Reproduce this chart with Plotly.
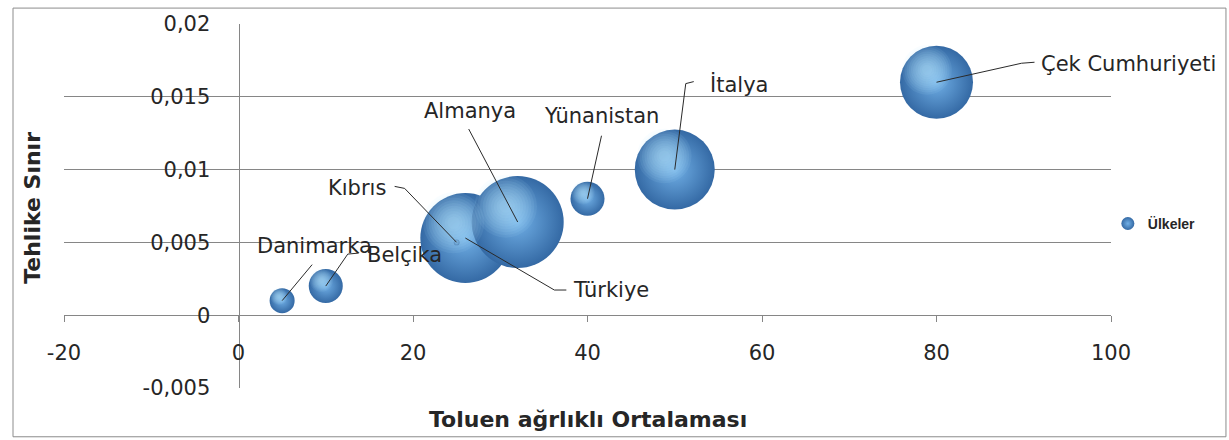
import math
import plotly.graph_objects as go

# Ülke verileri
countries = ["Danimarka", "Belçika", "Türkiye", "Kıbrıs", "Almanya",
             "Yünanistan", "İtalya", "Çek Cumhuriyeti"]
toluen = [5, 10, 26, 25, 32, 40, 50, 80]
tehlike = [0.001, 0.002, 0.0053, 0.005, 0.0064, 0.008, 0.010, 0.016]
bubble_size = [7.4, 13.7, 95.7, 0.4, 100, 13.7, 75.6, 63.0]

x_ticks = [-20, 0, 20, 40, 60, 80, 100]
x_tick_labels = ["-20", "0", "20", "40", "60", "80", "100"]
y_ticks = [-0.005, 0, 0.005, 0.01, 0.015, 0.02]
y_tick_labels = ["-0,005", "0", "0,005", "0,01", "0,015", "0,02"]

FONT = "DejaVu Sans"
GRID = "#868686"
TEXT = "#262626"
EDGE = "#3469a4"
CENTER = "#70afe6"
SHINE = "rgba(190,228,252,0.085)"
MAX_DIAM = 92
SIZEREF = 2.0 * max(bubble_size) / MAX_DIAM ** 2

# Etiket yerleşimi: lider çizgisinin kırılma noktaları ve metin konumu (ekran pikseli, aşağı pozitif)
leaders = {
    "Danimarka": ([(30, -36)], (32, -55), "center"),
    "Belçika": ([(22, -32), (33, -33)], (40, -31), "left"),
    "Türkiye": ([(89, 52), (101, 52)], (107, 52), "left"),
    "Kıbrıs": ([(-52, -54), (-62, -56)], (-70, -54), "right"),
    "Almanya": ([(-49, -93)], (-48, -111), "center"),
    "Yünanistan": ([(14, -63)], (14, -83), "center"),
    "İtalya": ([(11, -86), (19, -88)], (34, -85), "left"),
    "Çek Cumhuriyeti": ([(85, -19), (98, -20)], (103, -18), "left"),
}

fig = go.Figure()

fig.add_trace(go.Scatter(
    x=toluen, y=tehlike, mode="markers", showlegend=False,
    hovertext=countries,
    marker=dict(
        size=bubble_size, sizemode="area", sizeref=SIZEREF,
        color=EDGE, line=dict(width=0), opacity=1,
        gradient=dict(type="radial", color=CENTER),
    ),
))

# Gösterge girdisi
fig.add_trace(go.Scatter(
    x=[None], y=[None], mode="markers", name="Ülkeler",
    marker=dict(size=13, color=EDGE, line=dict(width=0),
                gradient=dict(type="radial", color=CENTER)),
))

shapes = []
annotations = []

# Kürelerin sol üstündeki yumuşak parlama (balon çapına göre piksel cinsinden)
for xv, yv, s in zip(toluen, tehlike, bubble_size):
    d = 2 * math.sqrt(s / 2 / SIZEREF)
    if d < 12:
        continue
    cx, cy = -0.13 * d, 0.17 * d
    for k in range(10):
        r = (0.34 - 0.03 * k) * d
        shapes.append(dict(
            type="circle", xref="x", yref="y",
            xsizemode="pixel", ysizemode="pixel", xanchor=xv, yanchor=yv,
            x0=cx - r, x1=cx + r, y0=cy - r, y1=cy + r,
            fillcolor=SHINE, line=dict(width=0), layer="above",
        ))

for name, xv, yv in zip(countries, toluen, tehlike):
    pts, (tx, ty), anchor = leaders[name]
    path = "M 0,0 " + " ".join(f"L {px},{-py}" for px, py in pts)
    shapes.append(dict(
        type="path", path=path, xref="x", yref="y",
        xsizemode="pixel", ysizemode="pixel", xanchor=xv, yanchor=yv,
        line=dict(color="#2a2a2a", width=1), layer="above",
    ))
    annotations.append(dict(
        x=xv, y=yv, xref="x", yref="y", text=name, showarrow=False,
        xshift=tx, yshift=-ty, xanchor=anchor, yanchor="middle",
        borderpad=0, font=dict(family=FONT, size=21, color=TEXT),
    ))

# Eksen başlıkları
annotations.append(dict(
    x=0.5, y=-0.0874, xref="paper", yref="paper",
    text="<b>Toluen ağrlıklı Ortalaması</b>", showarrow=False,
    xanchor="center", yanchor="middle",
    font=dict(family=FONT, size=22, color=TEXT),
))
annotations.append(dict(
    x=-0.0296, y=0.495, xref="paper", yref="paper",
    text="<b>Tehlike Sınır</b>", showarrow=False, textangle=-90,
    xanchor="center", yanchor="middle",
    font=dict(family=FONT, size=22, color=TEXT),
))

# Grafik çerçevesi
shapes.append(dict(
    type="rect", xref="paper", yref="paper",
    x0=-0.0487, x1=1.1098, y0=-0.134, y1=1.0437,
    line=dict(color="#8c8c8c", width=1), layer="below",
))

fig.update_layout(
    width=1229, height=440,
    margin=dict(l=64, r=118, t=22, b=52),
    paper_bgcolor="white", plot_bgcolor="white",
    font=dict(family=FONT, color=TEXT),
    shapes=shapes, annotations=annotations,
    showlegend=True,
    legend=dict(
        x=0.997, y=0.4508, xanchor="left", yanchor="middle",
        font=dict(family="Liberation Sans", size=14, color=TEXT, weight="bold"),
        itemwidth=30, bgcolor="rgba(0,0,0,0)",
    ),
    xaxis=dict(
        range=[-20, 100], domain=[0, 1], anchor="free", position=0.2,
        tickvals=x_ticks, ticktext=x_tick_labels,
        showgrid=False, zeroline=False,
        showline=True, linecolor=GRID, linewidth=1,
        ticks="outside", ticklen=6, tickcolor=GRID, tickwidth=1,
        ticklabelstandoff=13,
        tickfont=dict(family=FONT, size=21, color=TEXT),
    ),
    yaxis=dict(
        range=[-0.005, 0.02], domain=[0, 1], anchor="free", position=20 / 120,
        tickvals=y_ticks, ticktext=y_tick_labels,
        showgrid=True, gridcolor=GRID, gridwidth=1, zeroline=False,
        showline=True, linecolor=GRID, linewidth=1,
        ticks="", ticklabelstandoff=24,
        tickfont=dict(family=FONT, size=21, color=TEXT),
    ),
)

fig.write_html("out.html")
